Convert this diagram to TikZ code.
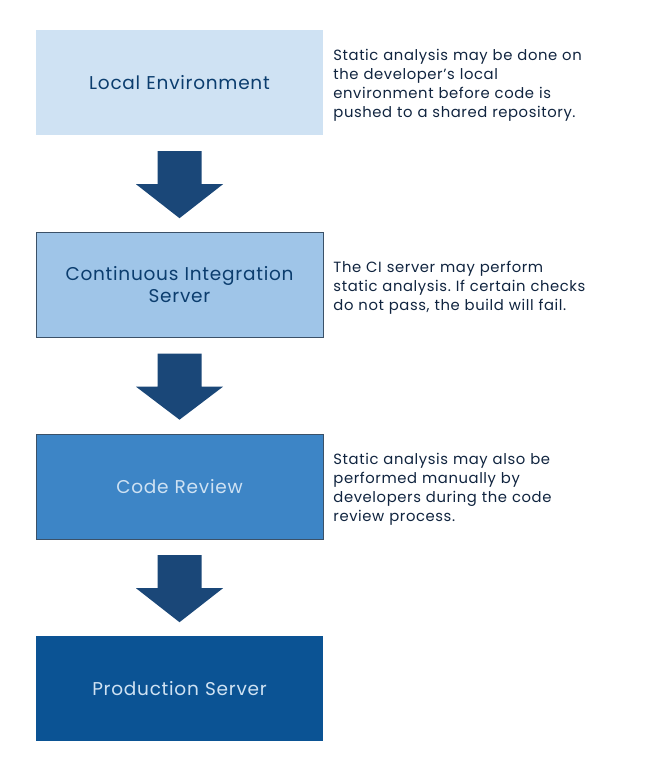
\documentclass[tikz,border=0pt]{standalone}
\usepackage{fontspec}
\setmainfont{Poppins}
\newfontfamily\wideface[LetterSpace=4]{Poppins}
\usepackage{xcolor}
\usepackage{tikz}
\usetikzlibrary{positioning, calc}
\definecolor{localblue}{HTML}{CFE2F3}
\definecolor{ciblue}{HTML}{9FC5E8}
\definecolor{reviewblue}{HTML}{3D85C6}
\definecolor{prodblue}{HTML}{0B5394}
\definecolor{arrowblue}{HTML}{1A4778}
\definecolor{titledark}{HTML}{0B3D6E}
\definecolor{notedark}{HTML}{10243F}
\definecolor{edgedark}{HTML}{3B5168}
\frenchspacing
\tikzstyle{stage} = [rectangle, minimum width=287pt, minimum height=105pt, text width=280pt, align=center, inner sep=0pt, font=\wideface\fontsize{18.5}{22}\selectfont]
\tikzstyle{note} = [anchor=west, text width=310pt, align=left, inner sep=0pt, text=notedark, font=\wideface\fontsize{14.8}{19}\selectfont]
\tikzstyle{flow} = [fill=arrowblue, draw=none]

\begin{document}
\begin{tikzpicture}[x=1pt, y=1pt]
\useasboundingbox (0,0) rectangle (647,-773);

\node (local) [stage, fill=localblue, text=titledark] at (179.5,-82.5) {Local Environment};
\node (ci) [stage, fill=ciblue, text=titledark, draw=edgedark, line width=0.5pt, below=97pt of local] {Continuous Integration\\Server};
\node (review) [stage, fill=reviewblue, text=localblue, draw=edgedark, line width=0.5pt, below=96pt of ci] {Code Review};
\node (prod) [stage, fill=prodblue, text=localblue, below=97pt of review] {Production Server};

% block arrows between the stages
\foreach \from/\to in {local/ci, ci/review, review/prod}
  \fill[flow] ($(\from.south)+(-22,-16)$) -- ($(\from.south)+(22,-16)$) -- ($(\from.south)+(22,-49)$)
    -- ($(\from.south)+(43.5,-49)$) -- ($(\to.north)+(0,14)$) -- ($(\from.south)+(-43.5,-49)$)
    -- ($(\from.south)+(-22,-49)$) -- cycle;

\node (localnote) [note, right=10pt of local.east, yshift=-3pt] {Static analysis may be done on\\the developer’s local\\environment before code is\\pushed to a shared repository.};
\node (cinote) [note, right=10pt of ci.east, yshift=-3pt] {The CI server may perform\\static analysis. If certain checks\\do not pass, the build will fail.};
\node (reviewnote) [note, right=10pt of review.east, yshift=-3pt] {Static analysis may also be\\performed manually by\\developers during the code\\review process.};

\end{tikzpicture}
\end{document}
